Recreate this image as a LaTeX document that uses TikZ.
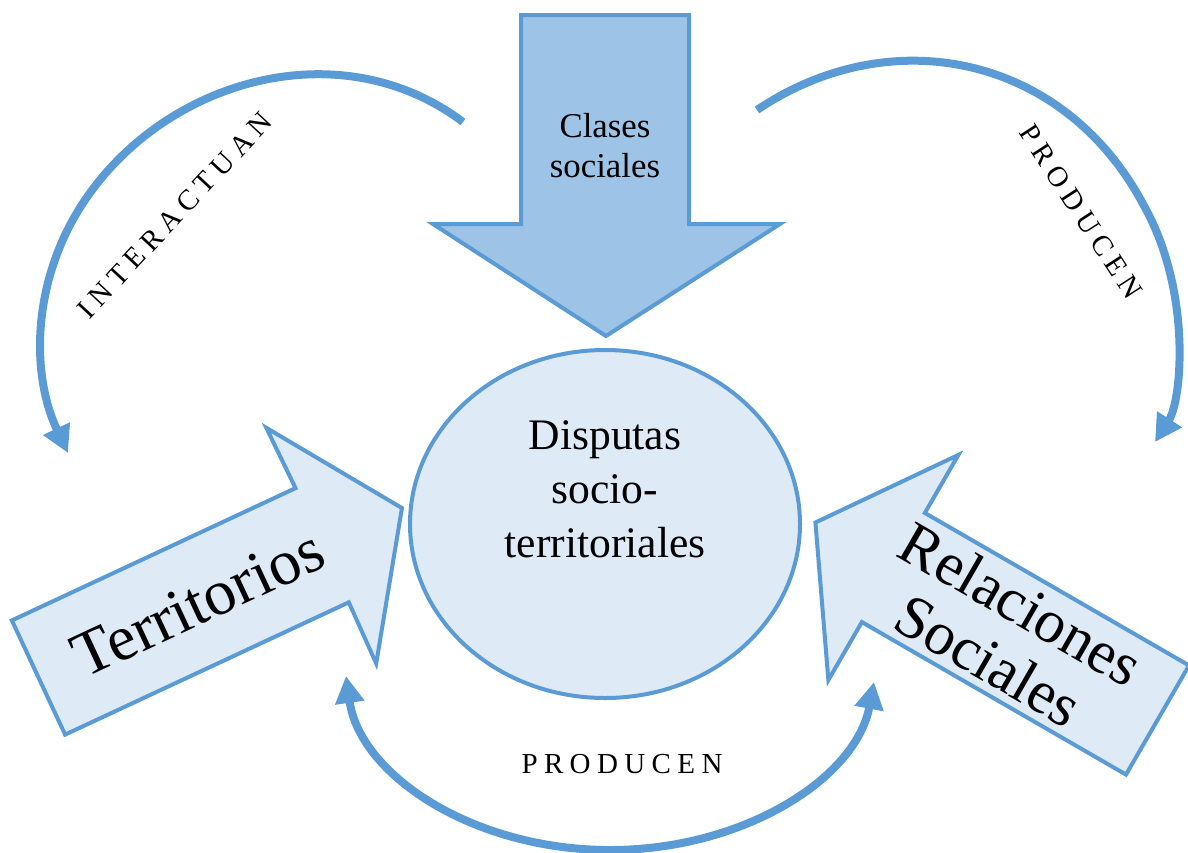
\documentclass[tikz,border=0pt]{standalone}
\usepackage{fontspec}
\setmainfont{Liberation Serif}
\newfontfamily\spacedfont[LetterSpace=22]{Liberation Serif}
\usetikzlibrary{arrows.meta, shapes.geometric}
\definecolor{lineblue}{RGB}{91,155,213}
\definecolor{paleblue}{RGB}{222,235,247}
\definecolor{midblue}{RGB}{157,195,230}

\begin{document}
\begin{tikzpicture}[x=0.5pt, y=-0.5pt,
        shapeline/.style={draw=lineblue, line width=2pt},
        curvearrow/.style={draw=lineblue, line width=4pt},
        arrowtip/.tip={Triangle[length=13.5pt, width=14pt]},
        spacedlabel/.style={inner sep=0pt, font=\spacedfont\fontsize{14.5}{17}\selectfont}]
        \useasboundingbox (0,0) rectangle (1188,852);

        % Add the big arrows
        \draw[shapeline, fill=midblue]
            (521,15) -- (689,15) -- (689,224) -- (780,224) -- (606,336)
            -- (433,224) -- (521,224) -- cycle;
        \begin{scope}[shift={(38.5,677.5)}, rotate=25]
            \draw[shapeline, fill=paleblue]
                (0,-63) -- (313,-63) -- (312,-130) -- (401,0)
                -- (312,130) -- (313,63) -- (0,63) -- cycle;
        \end{scope}
        \begin{scope}[shift={(1157.5,720)}, rotate=150]
            \draw[shapeline, fill=paleblue]
                (0,-63) -- (305,-63) -- (305,-130) -- (395,0)
                -- (305,130) -- (305,63) -- (0,63) -- cycle;
        \end{scope}

        % Add the circle and the texts
        \node[ellipse,
              shapeline,
              fill=paleblue,
              minimum width=195pt,
              minimum height=174pt,
              inner sep=0pt] (circ) at (605,524) {};
        \node[align=center,
              inner sep=0pt,
              font=\fontsize{21.8}{27}\selectfont] (disp) at (605,489)
            {Disputas\\socio-\\territoriales};
        \node[align=center,
              inner sep=0pt,
              font=\fontsize{17.4}{20}\selectfont] (clases) at (605,146)
            {Clases\\sociales};
        \node[rotate=25,
              inner sep=0pt,
              font=\fontsize{32}{38}\selectfont] (terr) at (198,603) {Territorios};
        \node[rotate=-30,
              align=center,
              inner sep=0pt,
              font=\fontsize{30.5}{32.5}\selectfont] (rel) at (1005,632)
            {Relaciones\\Sociales};

        % Ends of the curved arrows
        \coordinate (ia) at (463,122);
        \coordinate (im) at (79.5,208.5);
        \coordinate (ib) at (68,453);
        \coordinate (pa) at (757,110);
        \coordinate (pm) at (1143,204);
        \coordinate (pb) at (1155,442);
        \coordinate (qa) at (346,676);
        \coordinate (qm) at (610,850);
        \coordinate (qb) at (874,682);

        % Connect them with curved arrows
        \draw[curvearrow, -arrowtip]
            (ia) .. controls (338,28) and (159,81) .. (im)
                 .. controls (32.7,283.6) and (30.5,373.6) .. (ib);
        \draw[curvearrow, -arrowtip]
            (pa) .. controls (892,19) and (1064,56) .. (pm)
                 .. controls (1192,290) and (1182,400) .. (pb);
        \draw[curvearrow, arrowtip-arrowtip]
            (qa) .. controls (360,775) and (473,850) .. (qm)
                 .. controls (744,850) and (856,778) .. (qb);

        % Labels of the curved arrows
        \node[spacedlabel, rotate=47] (inter) at (175,215) {INTERACTUAN};
        \node[spacedlabel, rotate=-57] (prodr) at (1081,212) {PRODUCEN};
        \node[spacedlabel] (prodb) at (622,764) {PRODUCEN};
\end{tikzpicture}
\end{document}
